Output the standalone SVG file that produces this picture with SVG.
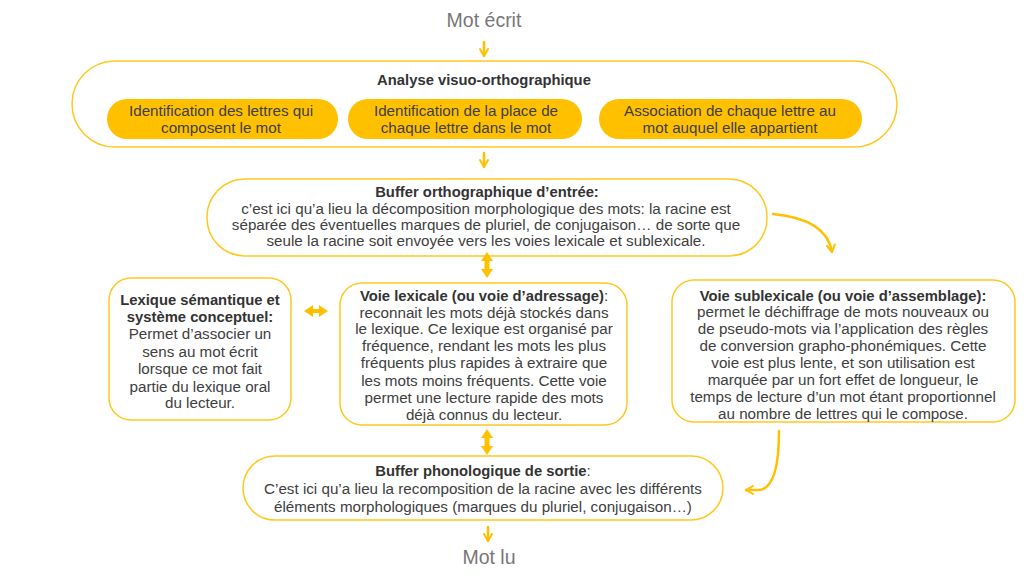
<svg xmlns="http://www.w3.org/2000/svg" width="1024" height="576" viewBox="0 0 1024 576">
<defs>
<style>
.box{fill:#fff;stroke:#FFC81E;stroke-width:1.5}
.pill{fill:#FFC000;stroke:none}
.t{font-family:"Liberation Sans",Arial,sans-serif;font-size:15.2px;fill:#404040;text-anchor:middle}
.b{font-weight:bold;fill:#333;font-size:14.8px}
.big{font-family:"Liberation Sans",Arial,sans-serif;font-size:19.5px;fill:#777;text-anchor:middle}
.c{fill:none;stroke:#FFC000;stroke-width:2.5;stroke-linecap:round}
.dbl{fill:#FFC000;stroke:none}
</style>
<marker id="ah" viewBox="0 0 10 10" refX="8" refY="5" markerWidth="4" markerHeight="4" orient="auto" markerUnits="strokeWidth">
<path d="M1,1 L8,5 L1,9" fill="none" stroke="#FFC000" stroke-width="2" stroke-linecap="round" stroke-linejoin="round"/>
</marker>
</defs>
<rect width="1024" height="576" fill="#fff"/>

<g id="mot-ecrit"><text class="big" x="484" y="27">Mot écrit</text></g>

<g id="analyse">
<rect class="box" x="72" y="61" width="825" height="86" rx="43"/>
<text class="t b" x="484" y="85">Analyse visuo-orthographique</text>
<g id="pill1"><rect class="pill" x="107" y="99" width="231" height="40" rx="20"/>
<text class="t" x="221" y="116">Identification des lettres qui</text><text class="t" x="221" y="133">composent le mot</text></g>
<g id="pill2"><rect class="pill" x="348" y="99" width="234" height="40" rx="20"/>
<text class="t" x="466" y="116">Identification de la place de</text><text class="t" x="466" y="133">chaque lettre dans le mot</text></g>
<g id="pill3"><rect class="pill" x="599" y="99" width="263" height="40" rx="20"/>
<text class="t" x="730" y="116">Association de chaque lettre au</text><text class="t" x="730" y="133">mot auquel elle appartient</text></g>
</g>

<g id="buffer-ortho">
<rect class="box" x="207" y="179" width="560" height="77" rx="38"/>
<text class="t b" x="487" y="197">Buffer orthographique d’entrée:</text>
<text class="t" x="486" y="214">c’est ici qu’a lieu la décomposition morphologique des mots: la racine est</text>
<text class="t" x="486" y="230">séparée des éventuelles marques de pluriel, de conjugaison… de sorte que</text>
<text class="t" x="486" y="246">seule la racine soit envoyée vers les voies lexicale et sublexicale.</text>
</g>

<g id="lexique-semantique">
<rect class="box" x="109" y="278" width="182" height="142" rx="22"/>
<text class="t b" x="200" y="305">Lexique sémantique et</text>
<text class="t b" x="200" y="322">système conceptuel:</text>
<text class="t" x="200" y="339">Permet d’associer un</text>
<text class="t" x="200" y="357">sens au mot écrit</text>
<text class="t" x="200" y="374">lorsque ce mot fait</text>
<text class="t" x="200" y="392">partie du lexique oral</text>
<text class="t" x="200" y="408">du lecteur.</text>
</g>

<g id="voie-lexicale">
<rect class="box" x="340" y="283" width="287" height="142" rx="22"/>
<text class="t" x="484" y="301"><tspan class="b">Voie lexicale (ou voie d’adressage)</tspan>:</text>
<text class="t" x="484" y="318">reconnait les mots déjà stockés dans</text>
<text class="t" x="484" y="334">le lexique. Ce lexique est organisé par</text>
<text class="t" x="484" y="351">fréquence, rendant les mots les plus</text>
<text class="t" x="484" y="368">fréquents plus rapides à extraire que</text>
<text class="t" x="484" y="386">les mots moins fréquents. Cette voie</text>
<text class="t" x="484" y="403">permet une lecture rapide des mots</text>
<text class="t" x="484" y="420">déjà connus du lecteur.</text>
</g>

<g id="voie-sublexicale">
<rect class="box" x="672" y="280" width="343" height="142" rx="22"/>
<text class="t b" x="843" y="301">Voie sublexicale (ou voie d’assemblage):</text>
<text class="t" x="843" y="317">permet le déchiffrage de mots nouveaux ou</text>
<text class="t" x="843" y="334">de pseudo-mots via l’application des règles</text>
<text class="t" x="843" y="351">de conversion grapho-phonémiques. Cette</text>
<text class="t" x="843" y="368">voie est plus lente, et son utilisation est</text>
<text class="t" x="843" y="385">marquée par un fort effet de longueur, le</text>
<text class="t" x="843" y="402">temps de lecture d’un mot étant proportionnel</text>
<text class="t" x="843" y="419">au nombre de lettres qui le compose.</text>
</g>

<g id="buffer-phono">
<rect class="box" x="243" y="456" width="480" height="64" rx="32"/>
<text class="t" x="483" y="476"><tspan class="b">Buffer phonologique de sortie</tspan>:</text>
<text class="t" x="483" y="494">C’est ici qu’a lieu la recomposition de la racine avec les différents</text>
<text class="t" x="483" y="512">éléments morphologiques (marques du pluriel, conjugaison…)</text>
</g>

<g id="mot-lu"><text class="big" x="489" y="564">Mot lu</text></g>

<g id="connectors">
<path class="c" d="M484,42 L484,56" marker-end="url(#ah)"/>
<path class="c" d="M484,153 L484,167" marker-end="url(#ah)"/>
<path class="c" d="M773,214 C805,217 828,228 832,252" marker-end="url(#ah)"/>
<path class="dbl" d="M487,252 L493,261 L489.5,261 L489.5,269 L493,269 L487,278 L481,269 L484.5,269 L484.5,261 L481,261 Z"/>
<path class="dbl" d="M304,311 L313,305 L313,309 L319,309 L319,305 L328,311 L319,317 L319,313 L313,313 L313,317 Z"/>
<path class="dbl" d="M487,429 L493,438 L489.5,438 L489.5,446 L493,446 L487,455 L481,446 L484.5,446 L484.5,438 L481,438 Z"/>
<path class="c" d="M779,431 C779,470 772,490 758,490 L746,490" marker-end="url(#ah)"/>
<path class="c" d="M488,527 L488,541" marker-end="url(#ah)"/>
</g>
</svg>
